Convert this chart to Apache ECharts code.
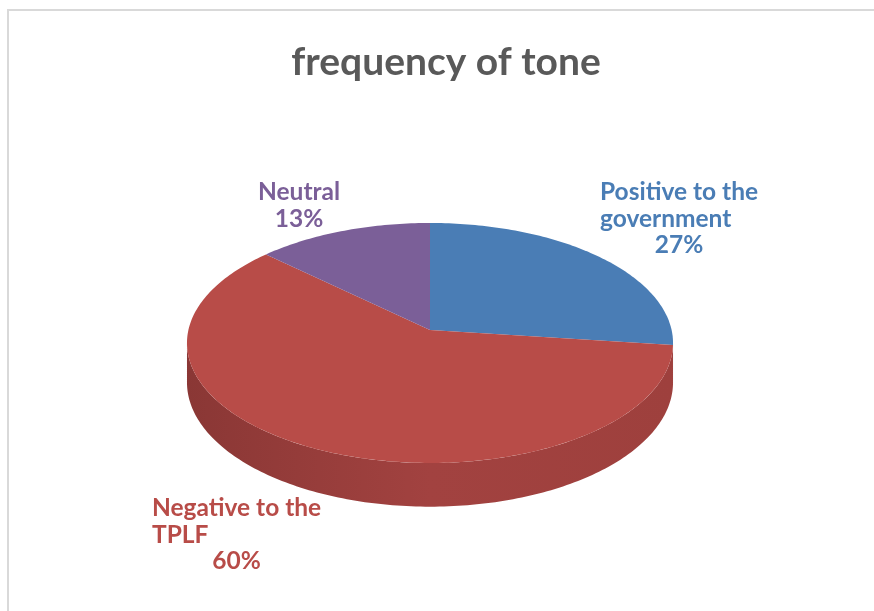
<!DOCTYPE html>
<html>
<head>
<meta charset="utf-8">
<script src="https://cdn.jsdelivr.net/npm/echarts@6/dist/echarts.min.js"></script>
<style>
html,body{margin:0;padding:0;background:#fff}
#main{width:874px;height:611px}
</style>
</head>
<body>
<div id="main"></div>
<script>
// data
var categories = ['Positive to the government', 'Negative to the TPLF', 'Neutral'];
var values = [27, 60, 13];
var labelLines = [['Positive to the', 'government'], ['Negative to the', 'TPLF'], ['Neutral']];

// look
var colors = ['#4A7DB5', '#B84C48', '#7B5F98'];
var wallStops = [
	['#3A6496', '#43709F', '#3D6898'],
	['#8A3735', '#A24240', '#9E403D'],
	['#5F4878', '#6A5186', '#634B7E']
];
// top-left of each label block (x, cap top)
var labelBox = [[600, 183], [152, 499], [258, 183]];
var labelFont = 'bold 24.5px Lato';
var labelLineH = 26.5;

// 3d pie projection
var pie = {cx: 430, cy: 330, rx: 241.6, ry: 118.6, persp: 0.108, depth: 39};

var total = values.reduce(function(a, b){ return a + b; }, 0);

function proj(phi, drop){
	var X = Math.sin(phi), Z = -Math.cos(phi);
	var k = 1 / (1 - pie.persp * Z);
	return [pie.cx + pie.rx * X * k, pie.cy + pie.ry * Z * k + pie.depth * k * drop];
}

function arc(a0, a1, drop){
	var pts = [], n = Math.max(2, Math.ceil((a1 - a0) / (Math.PI / 180)));
	for (var i = 0; i <= n; i++) pts.push(proj(a0 + (a1 - a0) * i / n, drop));
	return pts;
}

var measureCtx = document.createElement('canvas').getContext('2d');
measureCtx.font = labelFont;

function renderItem(params, api){
	var idx = params.dataIndex;
	var before = 0;
	for (var i = 0; i < idx; i++) before += values[i];
	var a0 = before / total * Math.PI * 2;
	var a1 = (before + values[idx]) / total * Math.PI * 2;
	var children = [];

	// front wall: visible where the rim faces the viewer
	var fLo = Math.acos(-pie.persp), fHi = Math.PI * 2 - fLo;
	var w0 = Math.max(a0, fLo), w1 = Math.min(a1, fHi);
	if (w1 > w0){
		var topArc = arc(w0, w1, 0);
		var botArc = arc(w0, w1, 1).reverse();
		var st = wallStops[idx];
		children.push({
			type: 'polygon',
			shape: {points: topArc.concat(botArc)},
			style: {
				fill: new echarts.graphic.LinearGradient(0, 0, 1, 0, [
					{offset: 0, color: st[0]},
					{offset: 0.5, color: st[1]},
					{offset: 1, color: st[2]}
				])
			}
		});
	}

	// top face
	children.push({
		type: 'polygon',
		shape: {points: [[pie.cx, pie.cy]].concat(arc(a0, a1, 0))},
		style: {fill: colors[idx]}
	});

	// label
	var lines = labelLines[idx];
	var bw = 0;
	lines.forEach(function(l){ bw = Math.max(bw, measureCtx.measureText(l).width); });
	var bx = labelBox[idx][0], by = labelBox[idx][1] - 4;
	lines.forEach(function(l, j){
		children.push({
			type: 'text',
			style: {
				text: l, x: bx, y: by + j * labelLineH,
				fill: colors[idx], font: labelFont,
				align: 'left', verticalAlign: 'top', lineHeight: labelLineH
			}
		});
	});
	children.push({
		type: 'text',
		style: {
			text: Math.round(values[idx] / total * 100) + '%',
			x: bx + bw / 2, y: by + lines.length * labelLineH,
			fill: colors[idx], font: labelFont,
			align: 'center', verticalAlign: 'top', lineHeight: labelLineH
		}
	});

	return {type: 'group', children: children};
}

var myChart = echarts.init(document.getElementById('main'));
var option = {
	backgroundColor: '#fff',
	animation: false,
	title: {
		text: 'frequency of tone',
		left: 441,
		top: 38,
		textAlign: 'center',
		textStyle: {fontFamily: 'Lato', fontWeight: 'bold', fontSize: 39, color: '#595959'}
	},
	graphic: [{
		type: 'rect',
		shape: {x: 8, y: 10, width: 900, height: 700},
		style: {fill: 'none', stroke: '#D9D9D9', lineWidth: 2},
		silent: true
	}],
	series: [{
		type: 'custom',
		coordinateSystem: 'none',
		renderItem: renderItem,
		data: categories.map(function(c, i){ return {name: c, value: values[i]}; })
	}]
};
option && myChart.setOption(option);
</script>
</body>
</html>
